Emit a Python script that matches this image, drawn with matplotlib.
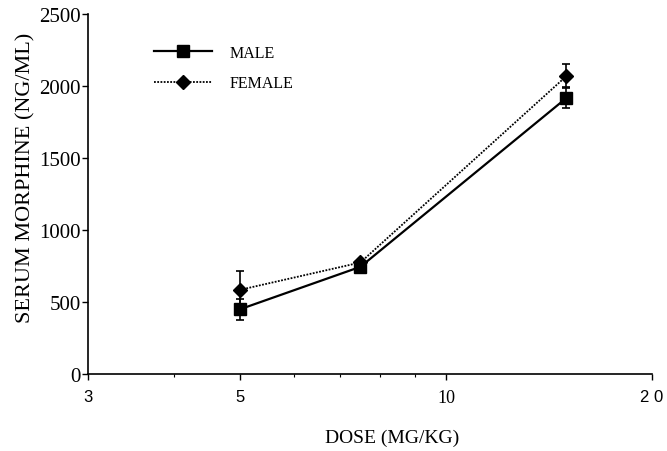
import matplotlib
matplotlib.use("Agg")
import matplotlib.pyplot as plt
from matplotlib.lines import Line2D
from matplotlib.ticker import FixedLocator, NullFormatter

# dose (mg/kg) and serum morphine (ng/ml)
doses = [5, 7.5, 15]
male_mean = [450, 745, 1917]
male_err = [75, 20, 73]
female_mean = [585, 775, 2069]
female_err = [130, 20, 84]

x_ticks = [3, 5, 10, 20]
x_tick_labels = ["3", "5", "10", "2 0"]
y_ticks = [0, 500, 1000, 1500, 2000, 2500]

serif = "Liberation Serif"
sans = "Liberation Sans"
plt.rcParams["font.family"] = serif

female_ls = (0, (1, 0.8))

fig = plt.figure(figsize=(6.67, 4.52), dpi=100)
ax = fig.add_axes([0.132, 0.170, 0.8455, 0.797])

ax.errorbar(doses, male_mean, yerr=male_err, color="black", lw=1.6,
            marker="s", markersize=9, capsize=3, elinewidth=1.2,
            capthick=1.2, zorder=3)
ax.errorbar(doses, female_mean, yerr=female_err, color="black", lw=1.3,
            ls=female_ls, marker="D", markersize=7.5, capsize=3,
            elinewidth=1.2, capthick=1.2, zorder=4)

ax.set_xscale("log")
ax.set_xlim(3, 20)
ax.set_ylim(0, 2500)
ax.xaxis.set_major_locator(FixedLocator(x_ticks))
ax.set_xticklabels(x_tick_labels)
ax.xaxis.set_minor_locator(FixedLocator([4, 6, 7, 8, 9]))
ax.xaxis.set_minor_formatter(NullFormatter())
ax.set_yticks(y_ticks)

ax.tick_params(axis="both", which="major", direction="out", length=4, width=1)
ax.tick_params(axis="x", which="major", pad=7)
ax.tick_params(axis="y", labelsize=15, pad=1)
ax.tick_params(axis="x", which="minor", direction="out", length=2.5, width=0.8)

# the scan mixes typefaces on the x tick labels
for lab in ax.get_xticklabels():
    if lab.get_text() == "10":
        lab.set_fontsize(13)
    else:
        lab.set_family(sans)
        lab.set_fontsize(12)

for side in ("top", "right"):
    ax.spines[side].set_visible(False)
for side in ("left", "bottom"):
    ax.spines[side].set_linewidth(1.2)

ax.set_xlabel("DOSE (MG/KG)", fontsize=14, va="top")
ax.xaxis.set_label_coords(0.54, -0.15)
ax.set_ylabel("SERUM MORPHINE (NG/ML)", fontsize=16)
ax.yaxis.set_label_coords(-0.094, 0.547)

handles = [
    Line2D([], [], color="black", lw=1.6, marker="s", markersize=9),
    Line2D([], [], color="black", lw=1.3, ls=female_ls, marker="D",
           markersize=7.5),
]
ax.legend(handles, ["MALE", "FEMALE"], loc="upper left",
          bbox_to_anchor=(0.117, 0.914), frameon=False, fontsize=11.5,
          handlelength=3.6, handletextpad=1.1, labelspacing=0.9,
          borderpad=0, borderaxespad=0, numpoints=1)

fig.savefig("out.png", dpi=100)
